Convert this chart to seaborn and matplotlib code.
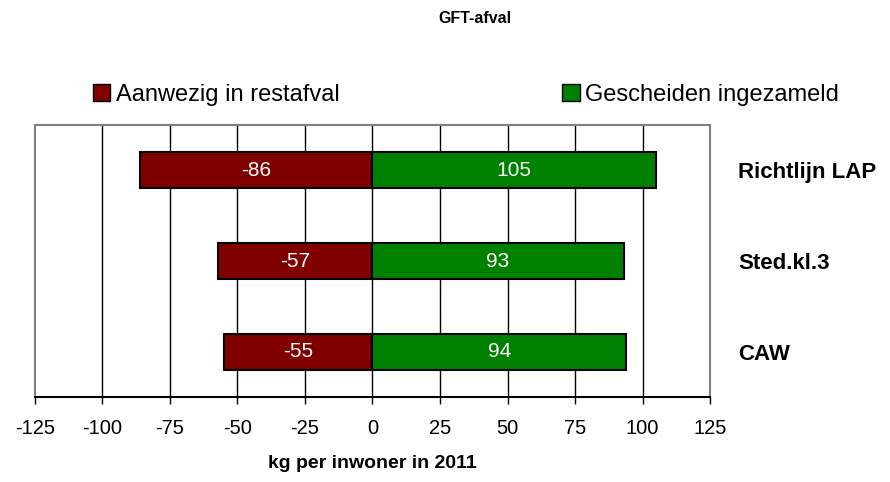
import numpy as np
import pandas as pd
import seaborn as sns
import matplotlib.pyplot as plt
from matplotlib.patches import Patch

categories = ["Richtlijn LAP", "Sted.kl.3", "CAW"]
restafval = [-86, -57, -55]
gescheiden = [105, 93, 94]
xticks = [-125, -100, -75, -50, -25, 0, 25, 50, 75, 100, 125]

sns.set_style("white")
plt.rcParams['font.family'] = ['Liberation Sans', 'DejaVu Sans']
plt.rcParams['text.color'] = 'black'
plt.rcParams['axes.labelcolor'] = 'black'
plt.rcParams['xtick.color'] = 'black'
plt.rcParams['ytick.color'] = 'black'

df = pd.DataFrame({"cat": categories, "rest": restafval, "gesch": gescheiden})

fig = plt.figure(figsize=(8.9, 4.82), dpi=100)
ax = fig.add_axes([0.039, 0.176, 0.759, 0.565])

red = "#800000"
green = "#008000"
sns.barplot(data=df, x="rest", y="cat", orient="h", color=red, edgecolor="black",
            linewidth=1.5, width=0.4, saturation=1, ax=ax, zorder=3)
sns.barplot(data=df, x="gesch", y="cat", orient="h", color=green, edgecolor="black",
            linewidth=1.5, width=0.4, saturation=1, ax=ax, zorder=3)

for i in range(len(categories)):
    ax.text(restafval[i] / 2, i, str(restafval[i]), color="white", ha="center",
            va="center", fontsize=15, zorder=4)
    ax.text(gescheiden[i] / 2, i, str(gescheiden[i]), color="white", ha="center",
            va="center", fontsize=15, zorder=4)

ax.set_xlim(-125, 125)
ax.set_ylim(2.5, -0.5)
ax.set_xticks(xticks)
ax.set_xticklabels([str(t) for t in xticks], fontsize=14.5)
ax.tick_params(axis="x", direction="out", length=5, width=1, color="black", pad=11, bottom=True)
for t in xticks[1:-1]:
    ax.axvline(t, color="black", linewidth=1, zorder=1)

ax.yaxis.tick_right()
ax.tick_params(axis="y", length=0, pad=20)
for lbl in ax.get_yticklabels():
    lbl.set_fontweight("bold")
    lbl.set_fontsize(16)
ax.set_ylabel("")
ax.set_xlabel("kg per inwoner in 2011", fontsize=14, fontweight="bold", labelpad=12)

for s in ["top", "left", "right"]:
    ax.spines[s].set_color("#808080")
    ax.spines[s].set_linewidth(1.5)
ax.spines["bottom"].set_color("black")
ax.spines["bottom"].set_linewidth(1.5)

handles = [Patch(facecolor=red, edgecolor="black", label="Aanwezig in restafval"),
           Patch(facecolor=green, edgecolor="black", label="Gescheiden ingezameld")]
fig.legend(handles=handles, loc="center left", bbox_to_anchor=(0.104, 0.803), ncol=2,
           frameon=False, fontsize=17, handlelength=0.75, handleheight=0.75,
           handletextpad=0.25, columnspacing=9.4, borderpad=0, borderaxespad=0)

fig.text(0.534, 0.962, "GFT-afval", ha="center", va="center", fontsize=11.5, fontweight="bold")

plt.savefig("out.png", dpi=100)
